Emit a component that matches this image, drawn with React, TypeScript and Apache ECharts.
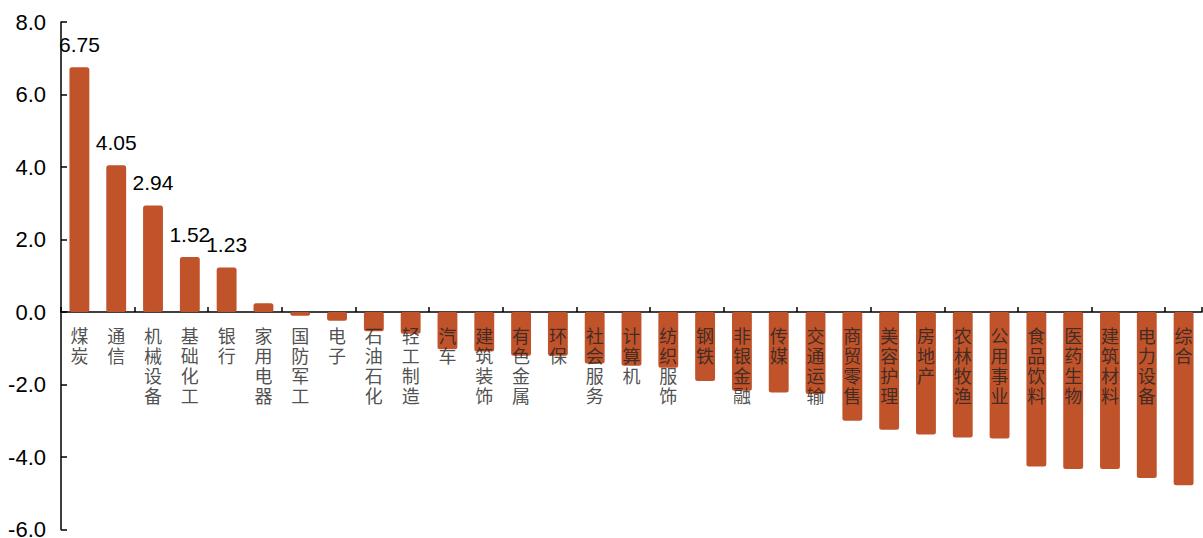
import React, { useEffect, useRef } from "react";
import * as echarts from "echarts";

const categories = [
  "煤炭", "通信", "机械设备", "基础化工", "银行", "家用电器", "国防军工", "电子",
  "石油石化", "轻工制造", "汽车", "建筑装饰", "有色金属", "环保", "社会服务", "计算机",
  "纺织服饰", "钢铁", "非银金融", "传媒", "交通运输", "商贸零售", "美容护理", "房地产",
  "农林牧渔", "公用事业", "食品饮料", "医药生物", "建筑材料", "电力设备", "综合",
];

const values = [
  6.75, 4.05, 2.94, 1.52, 1.23, 0.24, -0.1, -0.24,
  -0.53, -0.6, -1.03, -1.09, -1.21, -1.21, -1.42, -1.48,
  -1.54, -1.9, -2.17, -2.22, -2.26, -3.0, -3.25, -3.38,
  -3.46, -3.49, -4.26, -4.33, -4.33, -4.58, -4.78,
];

const labeledCategories = ["煤炭", "通信", "机械设备", "基础化工", "银行"];

const yMin = -6;
const yMax = 8;
const yInterval = 2;

const BAR_COLOR = "#C1532B";
const CJK_FONT = "'Noto Sans CJK SC', 'Liberation Sans', sans-serif";
const NUM_FONT = "'Liberation Sans', Arial, sans-serif";

export default function App() {
  const ref = useRef<HTMLDivElement>(null);

  useEffect(() => {
    if (!ref.current) return;
    const chart = echarts.init(ref.current, undefined, { renderer: "svg" });
    const option = {
      animation: false,
      backgroundColor: "#ffffff",
      grid: {
        left: 61,
        right: 1,
        top: 22,
        bottom: 8.5,
        containLabel: false,
        outerBoundsMode: "none",
      },
      xAxis: {
        type: "category",
        data: categories,
        boundaryGap: true,
        axisLine: { onZero: true, lineStyle: { color: "#000", width: 1.5 } },
        axisTick: { show: true, inside: true, length: 5, lineStyle: { color: "#000", width: 1.5 } },
        axisLabel: { show: false },
        splitLine: { show: false },
      },
      yAxis: {
        type: "value",
        min: yMin,
        max: yMax,
        interval: yInterval,
        axisLine: { show: true, lineStyle: { color: "#000", width: 1.5 } },
        axisTick: { show: true, inside: true, length: 6, lineStyle: { color: "#000", width: 1.5 } },
        axisLabel: {
          fontSize: 22,
          color: "#000",
          margin: 15,
          fontFamily: NUM_FONT,
          formatter: (v: number) => v.toFixed(1),
        },
        splitLine: { show: false },
      },
      series: [
        {
          type: "bar",
          data: values.map((v, i) => ({
            value: v,
            label: { show: labeledCategories.includes(categories[i]) },
          })),
          barWidth: "54%",
          itemStyle: { color: BAR_COLOR, borderRadius: 2.5 },
          label: {
            show: false,
            position: "top",
            distance: 12,
            fontSize: 21,
            color: "#000",
            fontFamily: NUM_FONT,
            formatter: (p: any) => Number(p.value).toFixed(2),
          },
        },
        {
          type: "scatter",
          data: categories.map((c, i) => [i, 0]),
          symbol: "circle",
          symbolSize: 1,
          itemStyle: { color: "rgba(0,0,0,0)" },
          silent: true,
          z: 5,
          label: {
            show: true,
            position: "bottom",
            distance: 12,
            fontSize: 18,
            lineHeight: 20,
            color: "#222",
            fontFamily: CJK_FONT,
            formatter: (p: any) => categories[p.dataIndex].split("").join("\n"),
          },
        },
      ],
    };
    chart.setOption(option);
    return () => chart.dispose();
  }, []);

  return (
    <div
      ref={ref}
      style={{ position: "fixed", left: 0, top: 0, width: 1203, height: 538 }}
    />
  );
}
